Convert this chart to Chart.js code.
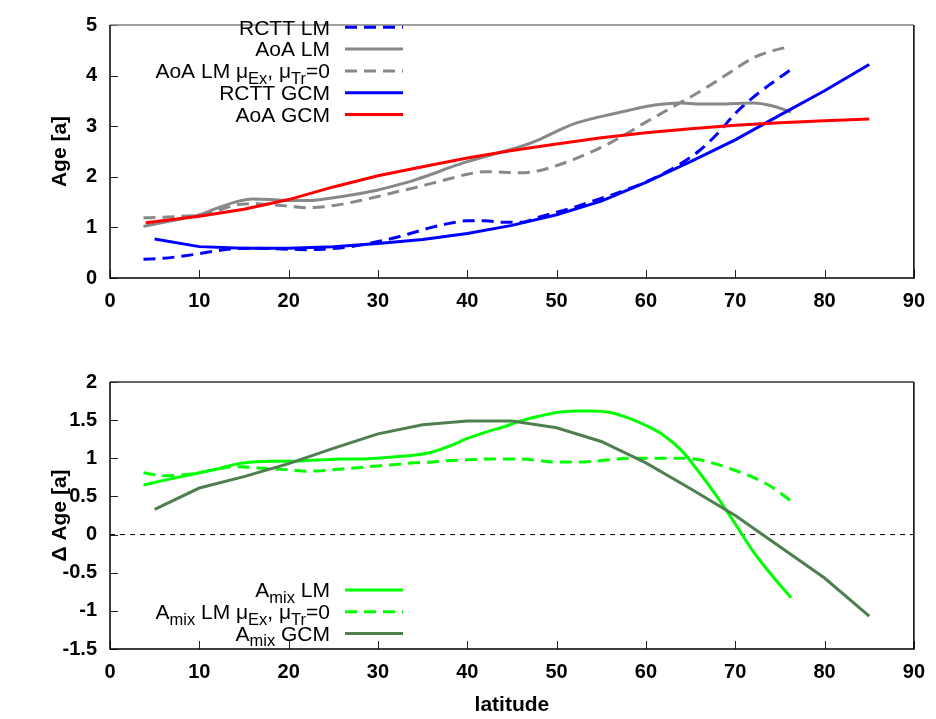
<!DOCTYPE html>
<html><head><meta charset="utf-8">
<script src="https://cdn.jsdelivr.net/npm/chart.js@4.4.0/dist/chart.umd.min.js"></script>
<style>
html,body{margin:0;padding:0;background:#fff;width:936px;height:719px;overflow:hidden}
canvas{position:absolute;left:0}
#c1{top:0}#c2{top:340px}
</style></head><body>
<canvas id="c1" width="936" height="340"></canvas>
<canvas id="c2" width="936" height="379"></canvas>
<script>
// ---------- data ----------
const latLM   = [3.75,6,8,10,12,14,16,18,20,22,24,26,28,30,32,34,36,38,40,42,44,46,48,50,52,54,56,58,60,62,64,66,68,70,72,74,76.25];
const rcttLM  = [0.37,0.39,0.43,0.48,0.54,0.58,0.59,0.58,0.57,0.56,0.57,0.60,0.65,0.72,0.80,0.90,1.00,1.08,1.13,1.13,1.10,1.10,1.20,1.30,1.40,1.52,1.63,1.76,1.90,2.07,2.27,2.52,2.85,3.25,3.57,3.84,4.12];
const aoaLM   = [1.02,1.10,1.17,1.25,1.38,1.50,1.56,1.55,1.53,1.53,1.56,1.61,1.67,1.74,1.83,1.93,2.05,2.18,2.30,2.40,2.50,2.60,2.73,2.90,3.05,3.15,3.23,3.31,3.39,3.44,3.46,3.44,3.44,3.45,3.46,3.41,3.28];
const aoaLM0  = [1.19,1.20,1.22,1.24,1.33,1.44,1.47,1.45,1.42,1.39,1.41,1.46,1.53,1.61,1.70,1.78,1.87,1.96,2.05,2.10,2.09,2.08,2.12,2.22,2.35,2.50,2.67,2.87,3.08,3.28,3.48,3.68,3.90,4.13,4.35,4.48,4.58];
const amixLM  = [0.65,0.71,0.76,0.81,0.86,0.92,0.95,0.96,0.96,0.97,0.98,0.99,0.99,1.00,1.02,1.04,1.08,1.16,1.26,1.34,1.41,1.49,1.55,1.60,1.62,1.62,1.60,1.53,1.43,1.30,1.10,0.81,0.49,0.14,-0.22,-0.52,-0.83];
const amixLM0 = [0.81,0.77,0.78,0.81,0.86,0.89,0.88,0.86,0.85,0.83,0.84,0.86,0.88,0.90,0.92,0.94,0.95,0.97,0.98,0.99,0.99,0.99,0.97,0.95,0.95,0.96,0.98,1.00,1.00,1.00,1.00,0.98,0.92,0.84,0.75,0.63,0.44];

const latGCM   = [5,10,15,20,25,30,35,40,45,50,55,60,65,70,75,80,85];
const rcttGCM  = [0.77,0.62,0.59,0.59,0.62,0.68,0.76,0.88,1.04,1.25,1.52,1.89,2.30,2.73,3.22,3.70,4.22];
const latAoaGCM= [4,10,15,20,25,30,35,40,45,50,55,60,65,70,75,80,85];
const aoaGCM   = [1.09,1.22,1.36,1.55,1.80,2.02,2.20,2.37,2.52,2.65,2.77,2.87,2.95,3.02,3.07,3.11,3.14];
const amixGCM  = [0.33,0.61,0.76,0.93,1.13,1.32,1.44,1.49,1.49,1.40,1.22,0.94,0.60,0.25,-0.16,-0.57,-1.07];

const zeroLat = [0,90];
const zeroVal = [0,0];

const xTicks = [0,10,20,30,40,50,60,70,80,90];

// ---------- helpers ----------
const FONT = '"Liberation Sans", Arial, Helvetica, sans-serif';
const pts = (xs, ys) => xs.map((x,i)=>({x:x, y:ys[i]}));

const frame = {
  id:'frame',
  afterDatasetsDraw(chart, args, o){
    const {ctx, chartArea:a, scales} = chart;
    ctx.save();
    ctx.setLineDash([]);
    ctx.strokeStyle = '#222'; ctx.lineWidth = 1;
    scales.x.ticks.forEach(t=>{
      const p = Math.round(scales.x.getPixelForValue(t.value))+0.5;
      ctx.beginPath(); ctx.moveTo(p,a.bottom); ctx.lineTo(p,a.bottom-8); ctx.stroke();
    });
    scales.y.ticks.forEach(t=>{
      const p = Math.round(scales.y.getPixelForValue(t.value))+0.5;
      ctx.beginPath(); ctx.moveTo(a.left,p); ctx.lineTo(a.left+8,p); ctx.stroke();
    });
    ctx.lineWidth = 1.5;
    ctx.strokeStyle = o.topColor;
    ctx.beginPath(); ctx.moveTo(a.left,a.top); ctx.lineTo(a.right,a.top); ctx.stroke();
    ctx.strokeStyle = '#000';
    ctx.beginPath(); ctx.moveTo(a.right,a.top); ctx.lineTo(a.right,a.bottom); ctx.lineTo(a.left,a.bottom); ctx.lineTo(a.left,a.top); ctx.stroke();
    ctx.restore();
  }
};

const MAIN = 21, SUB = 16.5;
const richLegend = {
  id:'richLegend',
  afterDraw(chart, args, o){
    const ctx = chart.ctx;
    ctx.save();
    let row = 0;
    chart.data.datasets.forEach(ds=>{
      if(!ds.rich) return;
      const yc = o.y0 + row*o.dy;
      const base = yc + 7.3;
      let w = 0;
      ds.rich.forEach(p=>{ ctx.font = (p[1]?SUB:MAIN)+'px '+FONT; w += ctx.measureText(p[0]).width; });
      let x = o.xRight - w;
      ctx.fillStyle = '#000'; ctx.textBaseline = 'alphabetic'; ctx.textAlign = 'left';
      ds.rich.forEach(p=>{
        ctx.font = (p[1]?SUB:MAIN)+'px '+FONT;
        ctx.fillText(p[0], x, base + (p[1]?5.5:0));
        x += ctx.measureText(p[0]).width;
      });
      ctx.strokeStyle = ds.borderColor; ctx.lineWidth = 3;
      ctx.setLineDash(ds.borderDash || []);
      ctx.beginPath(); ctx.moveTo(o.x1, yc); ctx.lineTo(o.x2, yc); ctx.stroke();
      row++;
    });
    ctx.restore();
  }
};

function lineDs(data, color, dash, rich, smooth, order){
  return {data, borderColor:color, borderWidth:3, borderDash:dash||[], pointRadius:0,
          fill:false, rich, order, tension: smooth?0.4:0, cubicInterpolationMode: smooth?'monotone':'default'};
}

function mkScales(yMin, yMax, yStep, yTitle, xTitle, xHeight){
  return {
    x:{type:'linear', min:0, max:90,
       afterBuildTicks: s=>{ s.ticks = xTicks.map(v=>({value:v})); },
       ticks:{font:{family:FONT, size:20, weight:'bold'}, color:'#000', padding:11, maxRotation:0,
              callback:v=>String(v)},
       grid:{display:false, drawTicks:false}, border:{display:false},
       title:{display:!!xTitle, text:xTitle||'', color:'#000', font:{family:FONT,size:21,weight:'bold'}, padding:{top:0,bottom:1.5}},
       afterFit: s=>{ s.height = xHeight; }},
    y:{type:'linear', min:yMin, max:yMax,
       ticks:{stepSize:yStep, font:{family:FONT, size:20, weight:'bold'}, color:'#000', padding:13,
              callback:v=>String(v)},
       grid:{display:false, drawTicks:false}, border:{display:false},
       title:{display:true, text:yTitle, color:'#000', font:{family:FONT,size:21,weight:'bold'}, padding:{top:48,bottom:0}},
       afterFit: s=>{ s.width = 110; }}
  };
}

const common = {responsive:false, animation:false, events:[], devicePixelRatio:1};

new Chart(document.getElementById('c1'), {
  type:'line',
  data:{datasets:[
    lineDs(pts(latLM, rcttLM), '#0000ff', [12,7], [['RCTT LM',0]], true, 5),
    lineDs(pts(latLM, aoaLM), '#888888', [], [['AoA LM',0]], true, 4),
    lineDs(pts(latLM, aoaLM0), '#888888', [12,7], [['AoA LM \u03bc',0],['Ex',1],[', \u03bc',0],['Tr',1],['=0',0]], true, 3),
    lineDs(pts(latGCM, rcttGCM), '#0000ff', [], [['RCTT GCM',0]], false, 2),
    lineDs(pts(latAoaGCM, aoaGCM), '#ff0000', [], [['AoA GCM',0]], false, 1)
  ]},
  options:Object.assign({}, common, {
    layout:{padding:{top:10, right:16, left:0, bottom:0}},
    plugins:{legend:{display:false}, tooltip:{enabled:false},
      frame:{topColor:'#808080'},
      richLegend:{y0:27.3, dy:21.8, xRight:330, x1:345, x2:403}},
    scales: mkScales(0,5,1,'Age [a]', null, 62)
  }),
  plugins:[frame, richLegend]
});

new Chart(document.getElementById('c2'), {
  type:'line',
  data:{datasets:[
    Object.assign(lineDs(pts(zeroLat, zeroVal), '#000000', [5,5], null, false, 10), {borderWidth:1}),
    lineDs(pts(latLM, amixLM), '#00ff00', [], [['A',0],['mix',1],[' LM',0]], true, 4),
    lineDs(pts(latLM, amixLM0), '#00ff00', [12,7], [['A',0],['mix',1],[' LM \u03bc',0],['Ex',1],[', \u03bc',0],['Tr',1],['=0',0]], true, 3),
    lineDs(pts(latGCM, amixGCM), '#4f7f4f', [], [['A',0],['mix',1],[' GCM',0]], false, 2)
  ]},
  options:Object.assign({}, common, {
    layout:{padding:{top:42, right:16, left:0, bottom:0}},
    plugins:{legend:{display:false}, tooltip:{enabled:false},
      frame:{topColor:'#333333'},
      richLegend:{y0:250, dy:21.7, xRight:330, x1:345, x2:403}},
    scales: mkScales(-1.5,2,0.5,'\u0394 Age [a]', 'latitude', 70)
  }),
  plugins:[frame, richLegend]
});
</script>
</body></html>
